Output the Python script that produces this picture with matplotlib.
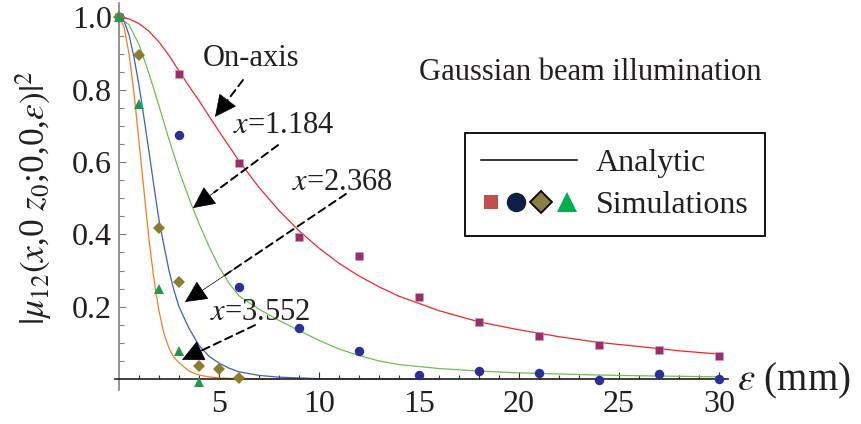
import numpy as np
import matplotlib
matplotlib.use("Agg")
import matplotlib.pyplot as plt
from matplotlib.lines import Line2D
from matplotlib.legend_handler import HandlerTuple

plt.rcParams['font.family'] = 'serif'
plt.rcParams['font.serif'] = ['Liberation Serif', 'DejaVu Serif']
plt.rcParams['mathtext.fontset'] = 'stix'

# analytic curves
eps_red = [0, 0.5, 1, 1.5, 2, 2.5, 3, 3.5, 4, 5, 6, 7, 8, 9, 10, 11, 12, 13, 14, 16, 18, 20,
           22, 24, 26, 28, 30]
mu_red = [1.0, 0.996, 0.983, 0.962, 0.932, 0.895, 0.852, 0.81, 0.77, 0.685, 0.603, 0.53,
          0.466, 0.41, 0.362, 0.32, 0.285, 0.255, 0.229, 0.189, 0.158, 0.136, 0.117, 0.101,
          0.09, 0.078, 0.069]

eps_green = [0, 0.5, 1, 1.5, 2, 2.5, 3, 3.5, 4, 4.5, 5, 5.5, 6, 7, 8, 9, 10, 11, 12, 13, 14,
             16, 18, 20, 22, 24, 26, 28, 30]
mu_green = [1.0, 0.98, 0.925, 0.845, 0.755, 0.663, 0.576, 0.5, 0.43, 0.367, 0.31, 0.265, 0.23,
            0.193, 0.162, 0.134, 0.107, 0.083, 0.065, 0.05, 0.04, 0.029, 0.022, 0.017, 0.014,
            0.011, 0.009, 0.0075, 0.006]

eps_blue = [0, 0.25, 0.5, 0.75, 1.0, 1.25, 1.5, 1.75, 2.0, 2.25, 2.5, 2.75, 3.0, 3.5, 4.0,
            4.5, 5.0, 5.5, 6, 7, 8, 10, 12, 16]
mu_blue = [1.0, 0.99, 0.952, 0.89, 0.812, 0.722, 0.628, 0.532, 0.44, 0.368, 0.3, 0.245, 0.2,
           0.14, 0.093, 0.063, 0.044, 0.03, 0.02, 0.01, 0.005, 0.001, 0.0, 0.0]

eps_orange = [0, 0.25, 0.5, 0.75, 1.0, 1.25, 1.5, 1.75, 2.0, 2.25, 2.5, 2.75, 3.0, 3.5, 4.0,
              4.5, 5, 6, 8]
mu_orange = [1.0, 0.974, 0.9, 0.79, 0.657, 0.52, 0.385, 0.275, 0.188, 0.125, 0.085, 0.06,
             0.045, 0.022, 0.011, 0.006, 0.003, 0.001, 0.0]

# simulation points
eps_sq = [0, 3, 6, 9, 12, 15, 18, 21, 24, 27, 30]
mu_sq = [1.0, 0.845, 0.597, 0.393, 0.34, 0.227, 0.157, 0.119, 0.094, 0.08, 0.064]
eps_ci = [0, 3, 6, 9, 12, 15, 18, 21, 24, 27, 30]
mu_ci = [1.0, 0.675, 0.254, 0.141, 0.078, 0.011, 0.023, 0.017, -0.003, 0.013, 0.0]
eps_di = [0, 1, 2, 3, 4, 5, 6]
mu_di = [1.0, 0.895, 0.418, 0.267, 0.036, 0.028, 0.003]
eps_tr = [0, 1, 2, 3, 4]
mu_tr = [1.0, 0.76, 0.249, 0.077, -0.008]

fig = plt.figure(figsize=(8.62, 4.24), dpi=100)
ax = fig.add_axes([115/862, 34/424, 613/862, 387/424])

ax.plot(eps_red, mu_red, color='#f0262a', lw=0.9, zorder=2)
ax.plot(eps_green, mu_green, color='#6cc04a', lw=0.9, zorder=2)
ax.plot(eps_blue, mu_blue, color='#3a5fbf', lw=0.9, zorder=2)
ax.plot(eps_orange, mu_orange, color='#f47d20', lw=0.9, zorder=2)

ax.plot(eps_sq, mu_sq, 's', color='#9b2d6b', ms=6, mec='#c9a0bb', mew=0.4, zorder=5, clip_on=False)
ax.plot(eps_ci, mu_ci, 'o', color='#2b2f96', ms=6.8, mew=0, zorder=5, clip_on=False)
ax.plot(eps_di, mu_di, 'D', color='#8c7d2e', ms=6.5, mew=0, zorder=5, clip_on=False)
ax.plot(eps_tr, mu_tr, '^', color='#1d9a4e', ms=6.5, mew=0, zorder=6, clip_on=False)

ax.set_xlim(-0.2, 30.45)
ax.set_ylim(-0.0304, 1.04)

for s in ['top', 'right']:
    ax.spines[s].set_visible(False)
ax.spines['left'].set_position(('data', 0))
ax.spines['bottom'].set_position(('data', 0))
ax.spines['left'].set_color('#808080')
ax.spines['bottom'].set_color('#202020')
ax.spines['left'].set_linewidth(1.2)
ax.spines['bottom'].set_linewidth(1.2)
ax.spines['left'].set_zorder(3)
ax.spines['bottom'].set_zorder(3)

ax.set_xticks([5, 10, 15, 20, 25, 30])
ax.set_xticks(np.arange(1, 31), minor=True)
ax.set_yticks([0.2, 0.4, 0.6, 0.8, 1.0])
ax.set_yticklabels(['0.2', '0.4', '0.6', '0.8', '1.0'])
ax.set_yticks(np.arange(0.05, 1.01, 0.05), minor=True)
ax.tick_params(axis='x', which='major', direction='in', length=5, width=0.8, color='#303030',
               labelsize=23, pad=8)
ax.tick_params(axis='x', which='minor', direction='in', length=3, width=0.8, color='#303030')
ax.tick_params(axis='y', which='major', direction='in', length=5, width=0.8, color='#808080',
               labelsize=23, pad=5)
ax.tick_params(axis='y', which='minor', direction='in', length=3.5, width=0.8, color='#808080')
for t in ax.get_xticklabels() + ax.get_yticklabels():
    t.set_color('#231f20')

fig.text(34/862, 1 - 198/424, r'$|\mu_{12}(x$,0 $z_0$;0,0,$\varepsilon)|^2$', rotation=90,
         ha='center', va='center', fontsize=25.5, color='#231f20')
fig.text(737/862, 1 - 381/424, r'$\varepsilon$ (mm)', ha='left', va='center', fontsize=28,
         color='#231f20')

# annotations: dashed shaft plus solid head
shaft = dict(arrowstyle='-', ls=(0, (4, 2.5)), lw=1.4, color='black', shrinkA=0, shrinkB=0)
head = dict(arrowstyle='-|>,head_length=0.45,head_width=0.22', lw=0.5, color='black',
            mutation_scale=32, shrinkA=0, shrinkB=0)
arrows = [((6.2, 0.827), (4.8, 0.725)),
          ((7.95, 0.647), (3.7, 0.473)),
          ((11.35, 0.512), (3.3, 0.213)),
          ((6.8, 0.149), (3.15, 0.053))]
for (x0, y0), (x1, y1) in arrows:
    ax.annotate('', xy=(x1 + 0.25*(x0 - x1), y1 + 0.25*(y0 - y1)), xytext=(x0, y0), arrowprops=shaft)
    ax.annotate('', xy=(x1, y1), xytext=(x1 + 0.3*(x0 - x1), y1 + 0.3*(y0 - y1)), arrowprops=head)

txt = dict(fontsize=22, color='#231f20', ha='left', va='baseline')
ax.text(4.2, 0.866, 'On-axis', **txt)
ax.text(5.7, 0.68, r'$x$=1.184', **txt)
ax.text(8.65, 0.523, r'$x$=2.368', **txt)
ax.text(4.55, 0.163, r'$x$=3.552', **txt)
ax.text(15.0, 0.827, 'Gaussian beam illumination', **txt)

# legend
h_line = Line2D([], [], color='black', lw=1.1)
h_sims = (Line2D([], [], ls='', marker='s', color='#c0504d', ms=10.5, mew=0),
          Line2D([], [], ls='', marker='o', color='#0e1e45', ms=14, mew=0),
          Line2D([], [], ls='', marker='D', color='#8a7e45', mec='black', ms=11, mew=1.3),
          Line2D([], [], ls='', marker='^', color='#00b050', ms=14, mew=0))
leg = ax.legend([h_line, h_sims], ['Analytic', 'Simulations'],
                handler_map={tuple: HandlerTuple(ndivide=None, pad=0.15)},
                loc='upper left', bbox_to_anchor=(465/862, 1 - 133/424),
                bbox_transform=fig.transFigure, fontsize=23, handlelength=3.0,
                handletextpad=0.6, borderpad=0.5, labelspacing=0.4, fancybox=False,
                framealpha=1, borderaxespad=0)
leg.get_frame().set_edgecolor('black')
leg.get_frame().set_linewidth(1.3)
for t in leg.get_texts():
    t.set_color('#231f20')

fig.savefig('out.png', dpi=100)
